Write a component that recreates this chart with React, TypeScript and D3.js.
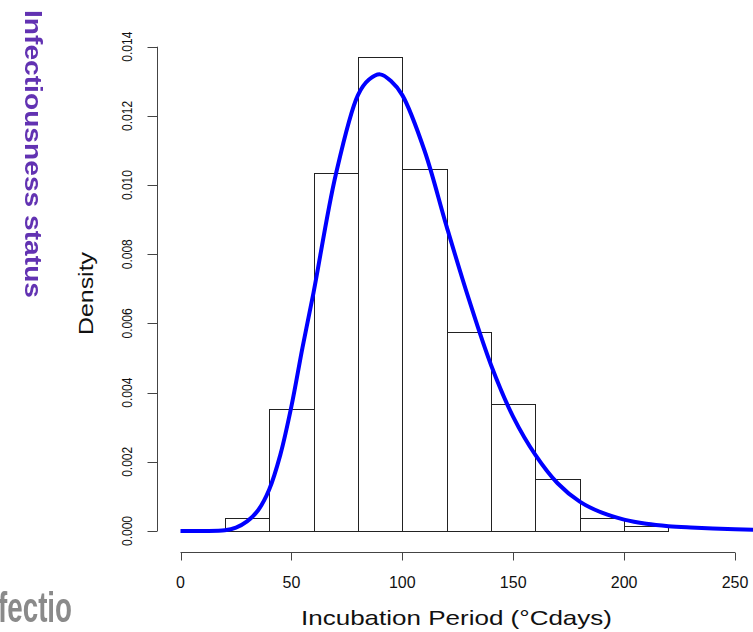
import React from "react";
import * as d3 from "d3";

const binEdges = [20, 40, 60, 80, 100, 120, 140, 160, 180, 200, 220];
const binDensities = [0.00037, 0.00352, 0.01036, 0.01371, 0.01046, 0.00574, 0.00367, 0.00149, 0.00037, 0.00015];

const curveXs = [0, 10, 20, 25, 30, 35, 40, 45, 50, 55, 60, 70, 80, 85, 90, 95, 100, 110, 120, 130, 140, 150, 160, 170, 180, 190, 200, 210, 220, 230, 240, 250, 260];
const curveYs = [0, 0.000001, 0.00002, 0.0001, 0.00028, 0.0006, 0.0012, 0.0022, 0.0036, 0.0053, 0.0069, 0.0103, 0.0126, 0.01305, 0.0132, 0.0130, 0.0126, 0.0110, 0.0088, 0.0067, 0.0048, 0.0033, 0.0022, 0.00138, 0.00085, 0.00053, 0.00033, 0.00021, 0.00014, 0.0001, 0.00007, 0.00005, 0.00003];

const xTicks = [0, 50, 100, 150, 200, 250];
const yTicks = [0, 0.002, 0.004, 0.006, 0.008, 0.01, 0.012, 0.014];
const yTickLabels = ["0.000", "0.002", "0.004", "0.006", "0.008", "0.010", "0.012", "0.014"];

const W = 753;
const H = 632;

export default function App() {
  const x = d3.scaleLinear().domain([0, 250]).range([180.5, 735]);
  const y = d3.scaleLinear().domain([0, 0.014]).range([531, 46.7]);

  const pts: [number, number][] = curveXs.map((v, i) => [v, curveYs[i]]);
  const line = d3
    .line<[number, number]>()
    .x((d) => x(d[0]))
    .y((d) => y(Math.max(0, d[1])))
    .curve(d3.curveCatmullRom.alpha(0.5));

  const axisY = 552.5;
  const axisX = 157.5;
  const font = "'Liberation Sans', Arial, sans-serif";

  return (
    <svg
      width={W}
      height={H}
      viewBox={`0 0 ${W} ${H}`}
      style={{ position: "absolute", left: 0, top: 0, background: "#fff" }}
      fontFamily={font}
    >
      <defs>
        <filter id="soft" x="-10%" y="-10%" width="120%" height="120%">
          <feGaussianBlur stdDeviation="0.5" />
        </filter>
        <clipPath id="plotclip">
          <rect x={0} y={0} width={W} height={y(0) + 2} />
        </clipPath>
      </defs>
      <rect x={0} y={0} width={W} height={H} fill="#fff" />

      {/* left purple overlay text */}
      <text
        transform={`translate(25,10) rotate(90)`}
        fontSize={24}
        fontWeight="bold"
        fill="#6233b2"
        textLength={288}
        lengthAdjust="spacingAndGlyphs"
        filter="url(#soft)"
      >
        Infectiousness status
      </text>

      {/* bottom-left gray fragment */}
      <text
        transform={`translate(72,622) scale(0.66,1)`}
        fontSize={42}
        fontWeight="bold"
        fill="#8a8a8a"
        textAnchor="end"
        filter="url(#soft)"
      >
        Infectio
      </text>

      {/* histogram bars */}
      {binDensities.map((dv, i) => {
        const x0 = Math.round(x(binEdges[i])) + 0.5;
        const x1 = Math.round(x(binEdges[i + 1])) + 0.5;
        const yt = Math.round(y(dv)) + 0.5;
        const yb = Math.round(y(0)) + 0.5;
        return (
          <rect
            key={i}
            x={x0}
            y={yt}
            width={x1 - x0}
            height={yb - yt}
            fill="none"
            stroke="#222"
            strokeWidth={1}
          />
        );
      })}

      {/* density curve */}
      <path d={line(pts) || ""} fill="none" stroke="#0000ff" strokeWidth={4} strokeLinejoin="round" />

      {/* x axis */}
      <line x1={x(0)} x2={x(250)} y1={axisY} y2={axisY} stroke="#444" strokeWidth={1} />
      {xTicks.map((t) => (
        <g key={t}>
          <line x1={Math.round(x(t)) + 0.5} x2={Math.round(x(t)) + 0.5} y1={axisY} y2={axisY + 8} stroke="#444" />
          <text x={x(t)} y={588} fontSize={16} textAnchor="middle" fill="#111">
            {t}
          </text>
        </g>
      ))}
      <text
        x={456.5}
        y={625}
        fontSize={21}
        textAnchor="middle"
        fill="#111"
        textLength={311}
        lengthAdjust="spacingAndGlyphs"
      >
        Incubation Period (°Cdays)
      </text>

      {/* y axis */}
      <line x1={axisX} x2={axisX} y1={y(0)} y2={y(0.014)} stroke="#444" strokeWidth={1} />
      {yTicks.map((t, i) => (
        <g key={t}>
          <line
            x1={axisX - 10}
            x2={axisX}
            y1={Math.round(y(t)) + 0.5}
            y2={Math.round(y(t)) + 0.5}
            stroke="#444"
          />
          <text
            transform={`translate(132,${y(t)}) rotate(-90)`}
            fontSize={15}
            textAnchor="middle"
            fill="#111"
            textLength={30}
            lengthAdjust="spacingAndGlyphs"
          >
            {yTickLabels[i]}
          </text>
        </g>
      ))}
      <text
        transform={`translate(93,293.5) rotate(-90)`}
        fontSize={21}
        textAnchor="middle"
        fill="#111"
        textLength={83}
        lengthAdjust="spacingAndGlyphs"
      >
        Density
      </text>
    </svg>
  );
}
